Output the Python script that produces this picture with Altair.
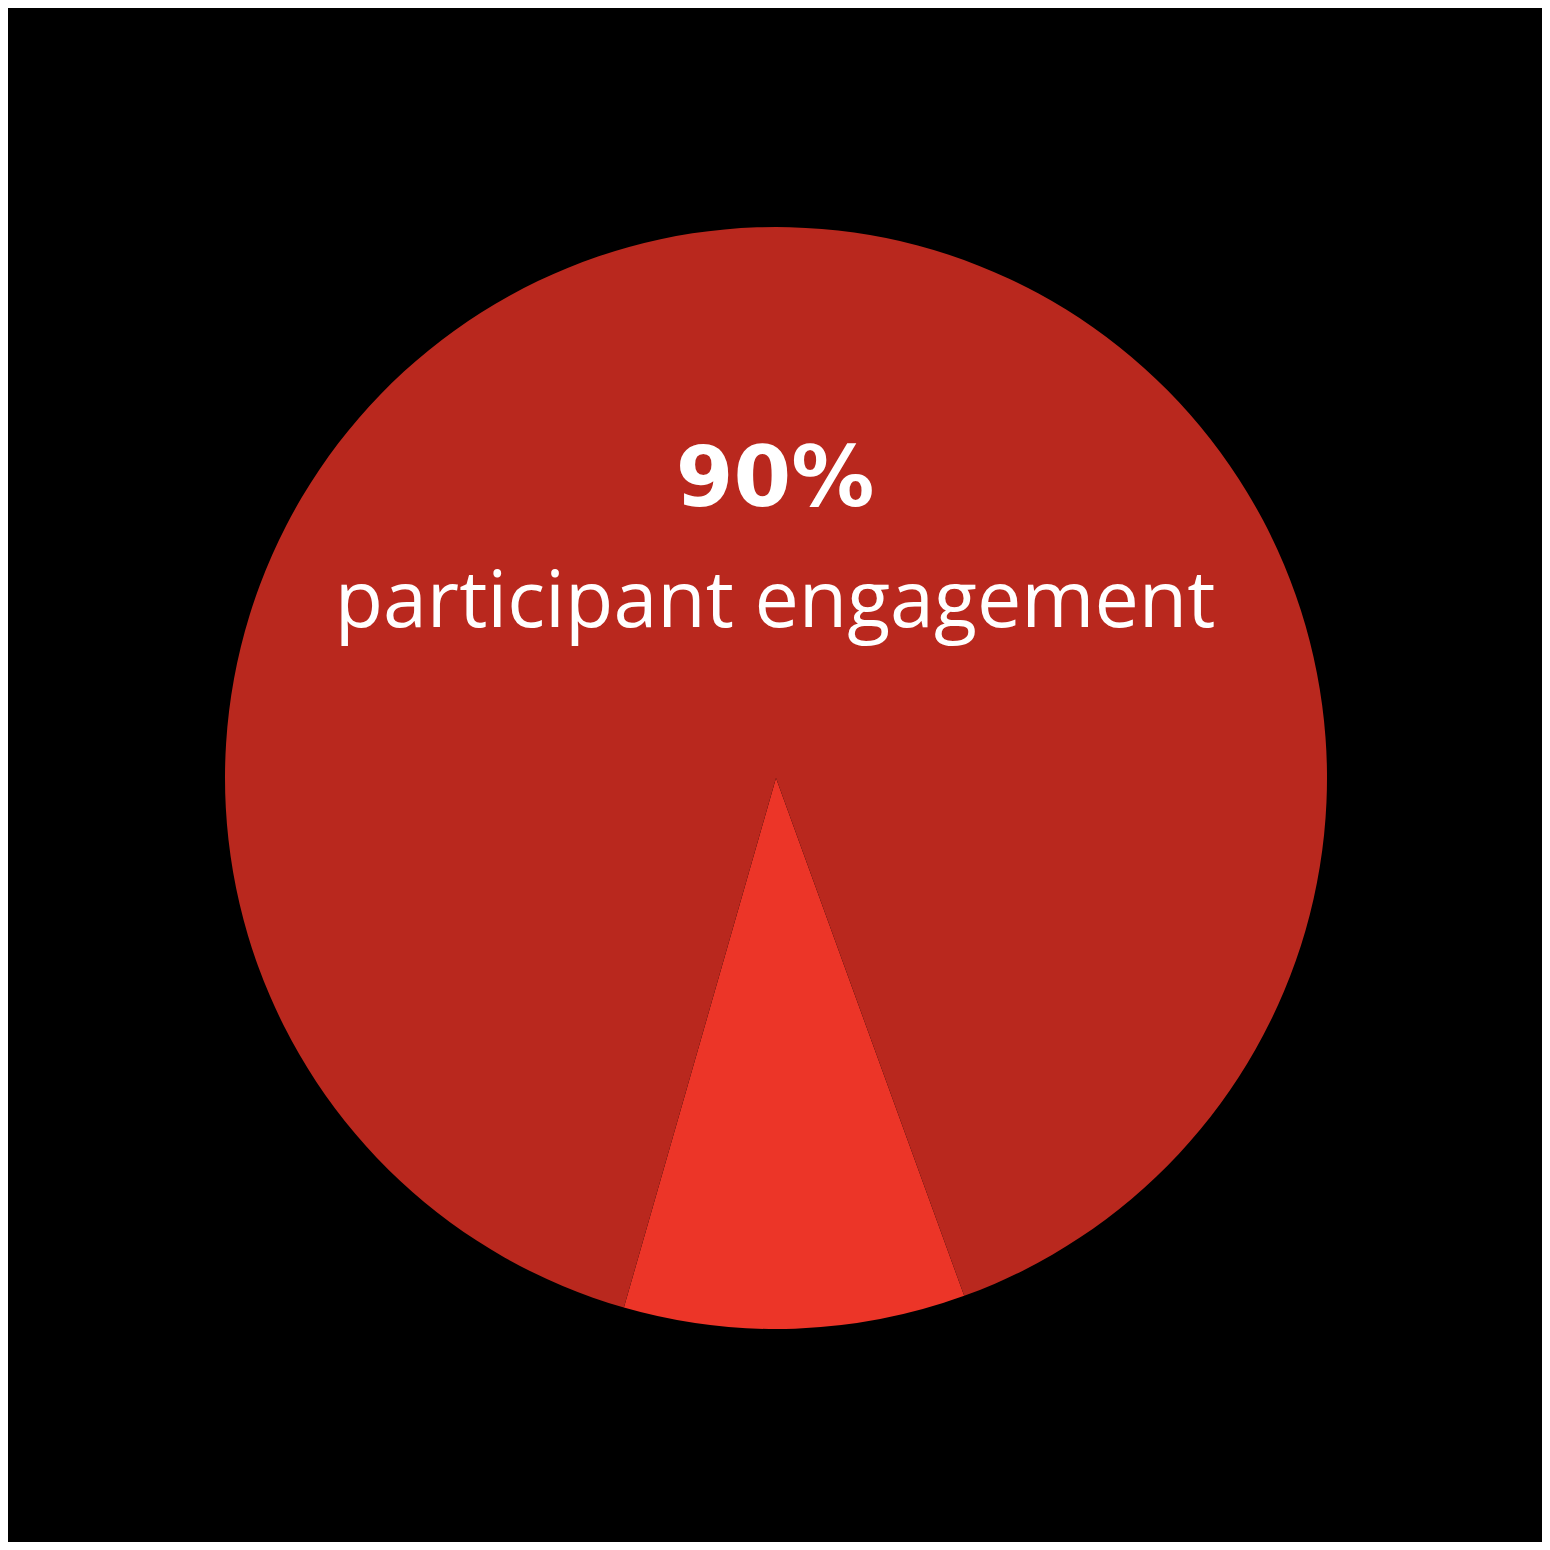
import altair as alt
import pandas as pd

categories = ["Other", "Participant engagement"]
values = [10, 90]
colors = ["#EC3528", "#B9281E"]
order = [0, 1]

df = pd.DataFrame({"category": categories, "value": values, "order": order})

start = 2.793

pie = alt.Chart(df).mark_arc(outerRadius=551, stroke=None).encode(
    theta=alt.Theta("value:Q", stack=True, scale=alt.Scale(range=[start, start + 6.2832])),
    order=alt.Order("order:Q"),
    color=alt.Color("category:N", scale=alt.Scale(domain=categories, range=colors), legend=None),
    x=alt.value(768),
    y=alt.value(770),
)

labels_df = pd.DataFrame({"t": ["90%"]})
big = alt.Chart(labels_df).mark_text(
    font="DejaVu Sans", fontWeight="bold", fontSize=83, color="white", baseline="alphabetic", align="center"
).encode(text="t:N", x=alt.value(767), y=alt.value(498))

sub_df = pd.DataFrame({"t": ["participant engagement"]})
sub = alt.Chart(sub_df).mark_text(
    font="Open Sans", fontSize=79, color="white", baseline="alphabetic", align="center"
).encode(text="t:N", x=alt.value(767), y=alt.value(619))

chart = alt.layer(pie, big, sub).properties(
    width=1534, height=1534, padding=0, background="black"
).configure_view(stroke=None)

chart.save("out.html", embed_options={"renderer": "svg", "actions": False})
